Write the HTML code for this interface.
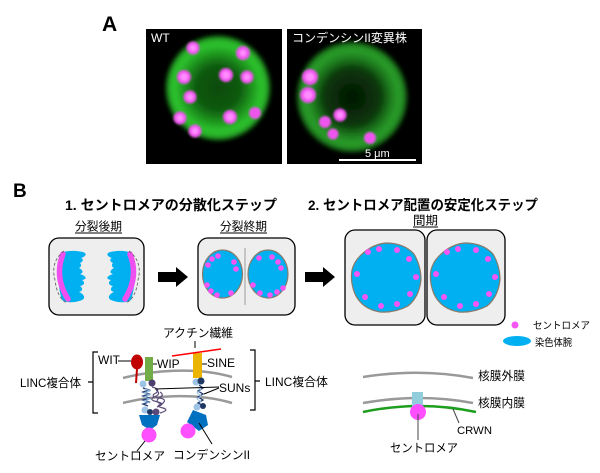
<!DOCTYPE html>
<html>
<head>
<meta charset="utf-8">
<style>
  html,body{margin:0;padding:0;background:#fff;}
  svg{display:block;}
  text{font-family:"Liberation Sans","Noto Sans CJK JP",sans-serif;}
</style>
</head>
<body>
<svg width="600" height="473" viewBox="0 0 600 473" xmlns="http://www.w3.org/2000/svg">
  <defs>
    <radialGradient id="g1" cx="0.5" cy="0.5" r="0.5">
      <stop offset="0" stop-color="#0b4a0c"/>
      <stop offset="0.42" stop-color="#0f5a10"/>
      <stop offset="0.66" stop-color="#1f9a1f"/>
      <stop offset="0.82" stop-color="#2ec42e"/>
      <stop offset="0.93" stop-color="#27ac27"/>
      <stop offset="1" stop-color="#000"/>
    </radialGradient>
    <radialGradient id="g2" cx="0.5" cy="0.5" r="0.5">
      <stop offset="0" stop-color="#031803"/>
      <stop offset="0.5" stop-color="#0a360a"/>
      <stop offset="0.68" stop-color="#1d781d"/>
      <stop offset="0.84" stop-color="#2aa02a"/>
      <stop offset="0.94" stop-color="#1e7e1e"/>
      <stop offset="1" stop-color="#000"/>
    </radialGradient>
    <filter id="bl3" x="-20%" y="-20%" width="140%" height="140%"><feGaussianBlur stdDeviation="2.5"/></filter>
    <filter id="bl1" x="-50%" y="-50%" width="200%" height="200%"><feGaussianBlur stdDeviation="1.1"/></filter>
    <clipPath id="c1"><rect x="146" y="29" width="136" height="135"/></clipPath>
    <clipPath id="c2"><rect x="287" y="29" width="135" height="135"/></clipPath>
  </defs>

  <!-- A label -->
  <text x="102" y="31" font-size="21" font-weight="bold" fill="#000">A</text>

  <!-- WT micrograph -->
  <rect x="146" y="29" width="136" height="135" fill="#000"/>
  <g clip-path="url(#c1)">
    <circle cx="218" cy="88" r="53" fill="url(#g1)" filter="url(#bl3)"/>
    <g filter="url(#bl1)" fill="#ee55ee">
      <circle cx="193" cy="48" r="6.5"/>
      <circle cx="243" cy="53" r="7"/>
      <circle cx="184" cy="77" r="7"/>
      <circle cx="226" cy="75" r="7"/>
      <circle cx="247" cy="77" r="6.5"/>
      <circle cx="190" cy="97" r="6.5"/>
      <circle cx="180" cy="118" r="6.5"/>
      <circle cx="230" cy="117" r="7"/>
      <circle cx="255" cy="113" r="6"/>
      <circle cx="195" cy="131" r="6.5"/>
    </g>
    <g fill="#ff8cff" filter="url(#bl1)">
      <circle cx="193" cy="48" r="3.5"/>
      <circle cx="243" cy="53" r="3.5"/>
      <circle cx="184" cy="77" r="4"/>
      <circle cx="226" cy="75" r="4"/>
      <circle cx="247" cy="77" r="3.5"/>
      <circle cx="190" cy="97" r="3.5"/>
      <circle cx="180" cy="118" r="3.5"/>
      <circle cx="230" cy="117" r="4"/>
      <circle cx="195" cy="131" r="3.5"/>
    </g>
  </g>
  <text x="151" y="42" font-size="12" fill="#fff">WT</text>

  <!-- Mutant micrograph -->
  <rect x="287" y="29" width="135" height="135" fill="#000"/>
  <g clip-path="url(#c2)">
    <circle cx="352" cy="97" r="56" fill="url(#g2)" filter="url(#bl3)"/>
    <g filter="url(#bl1)" fill="#ee55ee">
      <circle cx="310" cy="77" r="8"/>
      <circle cx="308" cy="95" r="8"/>
      <circle cx="340" cy="115" r="6.5"/>
      <circle cx="325" cy="122" r="6"/>
      <circle cx="333" cy="134" r="5.5"/>
      <circle cx="370" cy="138" r="6"/>
    </g>
    <g fill="#ff8cff" filter="url(#bl1)">
      <circle cx="310" cy="77" r="4.5"/>
      <circle cx="308" cy="95" r="4.5"/>
      <circle cx="340" cy="115" r="3.5"/>
    </g>
  </g>
  <text x="292" y="42" font-size="12" fill="#fff" textLength="115" lengthAdjust="spacingAndGlyphs">コンデンシンII変異株</text>
  <line x1="339" y1="160" x2="416" y2="160" stroke="#fff" stroke-width="2"/>
  <text x="365" y="157" font-size="11" fill="#fff">5 μm</text>

  <!-- B section -->
  <text x="13" y="197" font-size="19" font-weight="bold" fill="#000">B</text>
  <text x="65" y="210" font-size="14" font-weight="bold" fill="#000" textLength="212" lengthAdjust="spacingAndGlyphs">1. セントロメアの分散化ステップ</text>
  <text x="308" y="210" font-size="14" font-weight="bold" fill="#000" textLength="230" lengthAdjust="spacingAndGlyphs">2. セントロメア配置の安定化ステップ</text>

  <text x="75" y="230.5" font-size="12" fill="#000" textLength="47" lengthAdjust="spacingAndGlyphs">分裂後期</text>
  <line x1="75" y1="233" x2="122" y2="233" stroke="#000" stroke-width="0.9"/>
  <text x="220" y="230.5" font-size="12" fill="#000" textLength="47" lengthAdjust="spacingAndGlyphs">分裂終期</text>
  <line x1="220" y1="233" x2="267" y2="233" stroke="#000" stroke-width="0.9"/>
  <text x="413" y="224.5" font-size="12" fill="#000" textLength="25" lengthAdjust="spacingAndGlyphs">間期</text>
  <line x1="413" y1="227" x2="438" y2="227" stroke="#000" stroke-width="0.9"/>

  <!-- Anaphase cell -->
  <rect x="49" y="238" width="95" height="77" rx="10" fill="#eeeeee" stroke="#000" stroke-width="1.3"/>
  <g id="ana">
    <path d="M64,252 C70,250 82,251 85,253 C87,255 84,257 81,258 C84,259 83,262 80,263 C82,265 81,267 79,268 C83,270 84,273 80,274 C86,276 88,279 82,280 C85,282 85,285 80,286 C83,288 83,291 79,292 C84,294 86,298 82,300 C75,303 66,303 62,300 C57,285 57,265 64,252 Z" fill="#00b0f0"/>
    <path d="M63,254 Q54,277 68,299" fill="none" stroke="#f050f0" stroke-width="5.5" stroke-linecap="round"/>
    <path d="M64,251 Q50,262 55,280 Q57,298 67,303" fill="none" stroke="#666" stroke-width="0.9" stroke-dasharray="3,2"/>
  </g>
  <use href="#ana" transform="translate(193,0) scale(-1,1)"/>

  <!-- Arrow 1 -->
  <polygon points="158,272 176,272 176,267 188,277 176,287 176,282 158,282" fill="#000"/>

  <!-- Telophase cell -->
  <rect x="198" y="238" width="97" height="77" rx="10" fill="#eeeeee" stroke="#000" stroke-width="1.3"/>
  <line x1="245" y1="248" x2="245" y2="305" stroke="#9a9a9a" stroke-width="1"/>
  <ellipse cx="222.5" cy="274" rx="20" ry="24" fill="#00b0f0" stroke="#8c7a68" stroke-width="1.2"/>
  <ellipse cx="268" cy="274" rx="20" ry="24" fill="#00b0f0" stroke="#8c7a68" stroke-width="1.2"/>
  <g fill="#f555f5">
    <circle cx="218" cy="256" r="2.8"/><circle cx="212" cy="259" r="2.8"/><circle cx="208" cy="265" r="2.8"/>
    <circle cx="234" cy="262" r="2.8"/><circle cx="236" cy="269" r="2.8"/><circle cx="207" cy="285" r="2.8"/>
    <circle cx="211" cy="291" r="2.8"/><circle cx="217" cy="295" r="2.8"/><circle cx="231" cy="293" r="2.8"/>
    <circle cx="259" cy="258" r="2.8"/><circle cx="272" cy="257" r="2.8"/><circle cx="278" cy="262" r="2.8"/>
    <circle cx="281" cy="268" r="2.8"/><circle cx="253" cy="285" r="2.8"/><circle cx="260" cy="293" r="2.8"/>
    <circle cx="270" cy="295" r="2.8"/><circle cx="277" cy="292" r="2.8"/><circle cx="283" cy="288" r="2.8"/>
  </g>

  <!-- Arrow 2 -->
  <polygon points="305,272 323,272 323,267 335,277 323,287 323,282 305,282" fill="#000"/>

  <!-- Interphase cells -->
  <rect x="345" y="230" width="80" height="95" rx="10" fill="#eeeeee" stroke="#000" stroke-width="1.3"/>
  <rect x="427" y="230" width="78" height="95" rx="10" fill="#eeeeee" stroke="#000" stroke-width="1.3"/>
  <g id="nuc">
    <path d="M360,256 Q372,244 386,243 Q404,243 414,254 Q421,266 421,280 Q419,297 408,306 Q395,313 380,312 Q362,309 355,294 Q350,282 352,270 Q354,262 360,256 Z" fill="#00b0f0" stroke="#8c7a68" stroke-width="1.2"/>
    <g fill="#f555f5">
      <circle cx="368" cy="252" r="3"/><circle cx="379" cy="249" r="3"/><circle cx="397" cy="250" r="3"/>
      <circle cx="409" cy="259" r="3"/><circle cx="357" cy="274" r="3"/><circle cx="416" cy="277" r="3"/>
      <circle cx="410" cy="294" r="3"/><circle cx="365" cy="297" r="3"/><circle cx="381" cy="306" r="3"/>
      <circle cx="397" cy="304" r="3"/>
    </g>
  </g>
  <use href="#nuc" transform="translate(79,0)"/>

  <!-- Legend -->
  <circle cx="515" cy="325" r="3.5" fill="#f555f5"/>
  <text x="533" y="329" font-size="10" fill="#000" textLength="57" lengthAdjust="spacingAndGlyphs">セントロメア</text>
  <ellipse cx="517" cy="341" rx="14" ry="5" fill="#00b0f0"/>
  <text x="535" y="346" font-size="10" fill="#000" textLength="37" lengthAdjust="spacingAndGlyphs">染色体腕</text>

  <!-- LINC diagram -->
  <text x="163" y="337" font-size="12" fill="#000" textLength="70" lengthAdjust="spacingAndGlyphs">アクチン繊維</text>
  <line x1="195" y1="341" x2="195" y2="348" stroke="#000" stroke-width="1"/>

  <!-- membranes -->
  <path d="M123,378 C150,371 195,366 232,377" fill="none" stroke="#999" stroke-width="2.5"/>
  <path d="M123,403 C150,396 195,392 232,403" fill="none" stroke="#999" stroke-width="2.5"/>

  <!-- WIT -->
  <text x="98" y="364" font-size="12" fill="#000">WIT</text>
  <line x1="118" y1="361" x2="131" y2="361" stroke="#000" stroke-width="1"/>
  <path d="M137,369 L136,383" stroke="#c00000" stroke-width="2" fill="none"/>
  <ellipse cx="137" cy="362" rx="6" ry="7.5" fill="#c00000"/>

  <!-- WIP -->
  <rect x="145" y="357" width="8" height="24" fill="#70ad47"/>
  <line x1="153" y1="364" x2="157" y2="364" stroke="#000" stroke-width="1"/>
  <text x="157" y="368" font-size="12" fill="#000">WIP</text>

  <!-- SINE -->
  <rect x="193" y="353" width="9" height="25" fill="#eab400"/>
  <line x1="172" y1="356" x2="221" y2="349" stroke="#ff0000" stroke-width="1.5"/>
  <line x1="202" y1="364" x2="207" y2="364" stroke="#000" stroke-width="1"/>
  <text x="207" y="367" font-size="12" fill="#000">SINE</text>

  <!-- left helix -->
  <path d="M143,388 l6,2 l-6,2 l6,2 l-6,2 l6,2 l-6,2 l6,2 l-6,2 l5,2" fill="none" stroke="#1f3a6e" stroke-width="1.3"/>
  <path d="M145,389 l5,2 l-6,2 l6,2 l-6,2 l6,2 l-6,2 l6,2" fill="none" stroke="#9dc3e6" stroke-width="1"/>
  <path d="M152,387 q9,2 4,6 q-7,3 3,5 q9,1 3,6 q-8,2 1,4 q7,2 -3,5 M156,390 q6,4 -2,7 q-6,3 4,5 q8,2 -1,5 M160,392 q5,3 -1,6 q-5,4 3,6" fill="none" stroke="#5b4a78" stroke-width="1.2"/>
  <circle cx="143" cy="384" r="3.5" fill="#9dc3e6"/>
  <circle cx="152" cy="383" r="3.5" fill="#4b3f6b"/>
  <circle cx="145" cy="410" r="3.5" fill="#9dc3e6"/>
  <circle cx="150" cy="412" r="3" fill="#1f3864"/>
  <circle cx="156" cy="412" r="3.5" fill="#5b4a78"/>

  <!-- right helix -->
  <path d="M199,385 l4,3 l-5,3 l5,3 l-5,3 l5,3 l-5,3 l4,2" fill="none" stroke="#1f3a6e" stroke-width="1.3"/>
  <path d="M197,387 l4,3 l-4,3 l4,3 l-4,3 l4,3" fill="none" stroke="#9dc3e6" stroke-width="1"/>
  <circle cx="196" cy="382" r="3.5" fill="#9dc3e6"/>
  <circle cx="201" cy="381" r="3.5" fill="#1f3864"/>
  <circle cx="197" cy="407" r="3.5" fill="#9dc3e6"/>
  <circle cx="203" cy="406" r="3" fill="#1f3864"/>

  <!-- SUNs -->
  <text x="219" y="392" font-size="12" fill="#000">SUNs</text>
  <line x1="155" y1="389" x2="219" y2="387" stroke="#000" stroke-width="1"/>
  <line x1="219" y1="388" x2="204" y2="394" stroke="#000" stroke-width="1"/>

  <!-- pentagons & centromeres -->
  <polygon points="139,415 160,415 157,425 150,430 142,425" fill="#0070c0"/>
  <circle cx="149" cy="435" r="7.5" fill="#ff50ff"/>
  <polygon points="193,410 206,415 208,425 199,431 187,422" fill="#0070c0"/>
  <circle cx="188" cy="431" r="7.5" fill="#ff50ff"/>
  <line x1="145" y1="441" x2="137" y2="451" stroke="#000" stroke-width="1"/>
  <line x1="199" y1="423" x2="212" y2="444" stroke="#000" stroke-width="1"/>
  <text x="95" y="460" font-size="12" fill="#000" textLength="70" lengthAdjust="spacingAndGlyphs">セントロメア</text>
  <text x="173" y="459" font-size="12" fill="#000" textLength="77" lengthAdjust="spacingAndGlyphs">コンデンシンII</text>

  <!-- brackets -->
  <path d="M98,352 L93,352 L93,413 L98,413 M93,382 L88,382" fill="none" stroke="#000" stroke-width="1.2"/>
  <path d="M250,350 L255,350 L255,410 L250,410 M255,381 L260,381" fill="none" stroke="#000" stroke-width="1.2"/>
  <text x="20" y="387" font-size="12" fill="#000" textLength="61" lengthAdjust="spacingAndGlyphs">LINC複合体</text>
  <text x="265" y="386" font-size="12" fill="#000" textLength="63" lengthAdjust="spacingAndGlyphs">LINC複合体</text>

  <!-- membrane diagram right -->
  <path d="M363,377 Q420,368 473,378" fill="none" stroke="#999" stroke-width="2.5"/>
  <path d="M363,403 Q420,393 473,403" fill="none" stroke="#999" stroke-width="2.5"/>
  <path d="M363,412 Q420,400 476,412" fill="none" stroke="#1e9e1e" stroke-width="2.5"/>
  <rect x="412" y="392" width="11" height="16" fill="#92cddc"/>
  <circle cx="418" cy="412" r="8" fill="#ff50ff"/>
  <line x1="418" y1="414" x2="418" y2="440" stroke="#444" stroke-width="1"/>
  <line x1="453" y1="409" x2="459" y2="423" stroke="#444" stroke-width="1"/>
  <text x="478" y="380" font-size="12" fill="#000" textLength="47" lengthAdjust="spacingAndGlyphs">核膜外膜</text>
  <text x="478" y="407" font-size="12" fill="#000" textLength="47" lengthAdjust="spacingAndGlyphs">核膜内膜</text>
  <text x="457" y="434" font-size="11" fill="#000" textLength="35" lengthAdjust="spacingAndGlyphs">CRWN</text>
  <text x="390" y="452" font-size="12" fill="#000" textLength="68" lengthAdjust="spacingAndGlyphs">セントロメア</text>
</svg>
</body>
</html>
